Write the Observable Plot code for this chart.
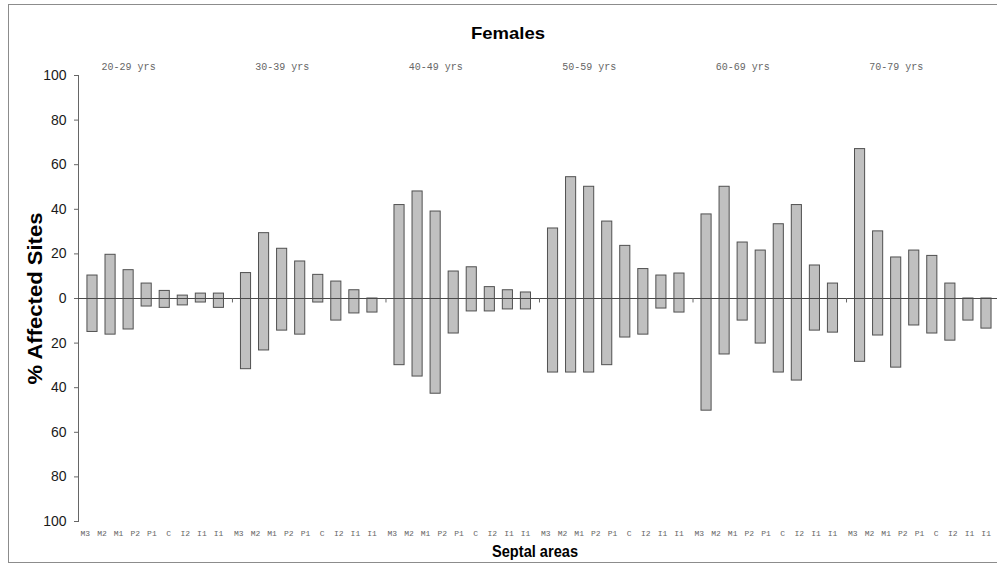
<!DOCTYPE html>
<html><head><meta charset="utf-8">
<script src="https://cdn.jsdelivr.net/npm/d3@7"></script>
<script src="https://cdn.jsdelivr.net/npm/@observablehq/plot@0.6"></script>
<style>
html,body{margin:0;padding:0;background:#fff;overflow:hidden}
#wrap{position:relative;width:997px;height:565px}
#border{position:absolute;left:8px;top:4px;width:989px;height:559px;border:1px solid #8c8c8c;border-right:none;box-sizing:border-box;pointer-events:none}
#chart{position:absolute;left:0;top:0}
</style>
</head><body>
<div id="wrap"><div id="chart"></div><div id="border"></div></div>
<script>
// ---- data ----
const ageGroups = ["20-29 yrs", "30-39 yrs", "40-49 yrs", "50-59 yrs", "60-69 yrs", "70-79 yrs"];
const areas = ["M3", "M2", "M1", "P2", "P1", "C", "I2", "I1"];
const areaTickLabels = ["M3", "M2", "M1", "P2", "P1", "C", "I2", "I1", "I1"];
const yTicks = [-100, -80, -60, -40, -20, 0, 20, 40, 60, 80, 100];

// upper part of each bar (% affected sites, shown above zero)
const upper2029 = [10.3, 19.6, 12.7, 6.7, 3.4, 1.3, 2.2, 2.2];
const upper3039 = [11.4, 29.3, 22.3, 16.6, 10.6, 7.6, 3.7, 0];
const upper4049 = [41.9, 48.0, 39.0, 12.1, 14.0, 5.1, 3.7, 2.7];
const upper5059 = [31.4, 54.4, 50.1, 34.5, 23.6, 13.2, 10.3, 11.2];
const upper6069 = [37.7, 50.1, 25.1, 21.5, 33.3, 41.9, 14.8, 6.7];
const upper7079 = [67.0, 30.1, 18.4, 21.5, 19.1, 6.7, 0, 0];
// lower part of each bar (% affected sites, shown below zero)
const lower2029 = [15.0, 16.2, 13.9, 3.6, 4.2, 3.1, 1.8, 4.2];
const lower3039 = [31.7, 23.3, 14.4, 16.2, 1.8, 9.9, 6.7, 6.3];
const lower4049 = [29.9, 35.0, 42.7, 15.7, 5.8, 5.8, 4.9, 4.9];
const lower5059 = [33.2, 33.2, 33.2, 29.9, 17.5, 16.2, 4.5, 6.3];
const lower6069 = [50.3, 25.1, 9.9, 20.2, 33.2, 36.8, 14.4, 15.3];
const lower7079 = [28.4, 16.6, 31.0, 12.1, 15.7, 18.9, 9.9, 13.5];

const upperByGroup = [upper2029, upper3039, upper4049, upper5059, upper6069, upper7079];
const lowerByGroup = [lower2029, lower3039, lower4049, lower5059, lower6069, lower7079];

// ---- layout constants ----
const GROUP_STEP = 8.5;     // slots per age group (8 bars + separator)
const BAR_HALF = 0.28;      // half bar width, in slots
const LABEL_SPAN = 7.38;    // spread of the 9 area labels, in slots
const LABEL_START = -0.4;
const GROUP_LABEL_OFFSET = 2.0;

const rows = [];
ageGroups.forEach((g, gi) => {
  areas.forEach((a, ai) => {
    rows.push({group: g, area: a, pos: gi * GROUP_STEP + ai,
               hi: upperByGroup[gi][ai], lo: -lowerByGroup[gi][ai]});
  });
});
const tickRows = [];
ageGroups.forEach((g, gi) => {
  areaTickLabels.forEach((t, ti) => {
    tickRows.push({label: t, pos: gi * GROUP_STEP + LABEL_START + ti * LABEL_SPAN / (areaTickLabels.length - 1)});
  });
});
const groupRows = ageGroups.map((g, gi) => ({label: g, pos: gi * GROUP_STEP + GROUP_LABEL_OFFSET}));
const sepRows = ageGroups.slice(1).map((g, gi) => ({pos: (gi + 1) * GROUP_STEP - 0.75}));

const mono = "'Liberation Mono', 'Courier New', monospace";

const chart = Plot.plot({
  width: 997,
  height: 565,
  marginLeft: 78,
  marginRight: 0,
  marginTop: 75,
  marginBottom: 44,
  style: {fontFamily: "'Liberation Sans', Arial, sans-serif", background: "transparent", overflow: "visible"},
  x: {domain: [-0.775, 50.11], axis: null},
  y: {domain: [-100, 100], axis: null},
  marks: [
    Plot.axisY({ticks: yTicks, tickFormat: d => Math.abs(d), tickSize: 4, tickPadding: 8,
                fontSize: 14, color: "#1a1a1a", stroke: "#666", label: null}),
    Plot.frame({anchor: "left", stroke: "#666"}),
    Plot.rectY(rows, {x1: d => d.pos - BAR_HALF, x2: d => d.pos + BAR_HALF,
                      y1: "lo", y2: "hi", fill: "#c0c0c0", stroke: "#505050", strokeWidth: 1}),
    Plot.ruleY([0], {stroke: "#4a4a4a", strokeWidth: 1}),
    Plot.ruleX(sepRows, {x: "pos", y1: 0, y2: -2, stroke: "#666"}),
    Plot.text(groupRows, {x: "pos", text: "label", frameAnchor: "top", lineAnchor: "middle", dy: -9,
                          fontFamily: mono, fontSize: 10, fill: "#666"}),
    Plot.text(tickRows, {x: "pos", text: "label", frameAnchor: "bottom", lineAnchor: "middle", dy: 12,
                         fontFamily: mono, fontSize: 8, fill: "#666"}),
    Plot.text(["Females"], {frameAnchor: "top", lineAnchor: "middle", dx: -30, dy: -42, fontSize: 17,
                            fontWeight: "bold", fill: "#000"}),
    Plot.text(["Septal areas"], {frameAnchor: "bottom", lineAnchor: "middle", dx: -3, dy: 30, fontSize: 16,
                                 fontWeight: "bold", fill: "#000"}),
    Plot.text(["% Affected Sites"], {frameAnchor: "left", textAnchor: "middle", lineAnchor: "middle",
                                     dx: -43, rotate: -90, fontSize: 20,
                                     fontWeight: "bold", fill: "#000"})
  ]
});
// match the lettering widths of the reference titles
const titleLengths = {"Females": 74, "Septal areas": 86, "% Affected Sites": 172};
d3.select(chart).selectAll("text").each(function() {
  const len = titleLengths[this.textContent];
  if (len) {
    this.setAttribute("textLength", len);
    this.setAttribute("lengthAdjust", "spacingAndGlyphs");
  }
});
document.getElementById("chart").appendChild(chart);
</script>
</body></html>
